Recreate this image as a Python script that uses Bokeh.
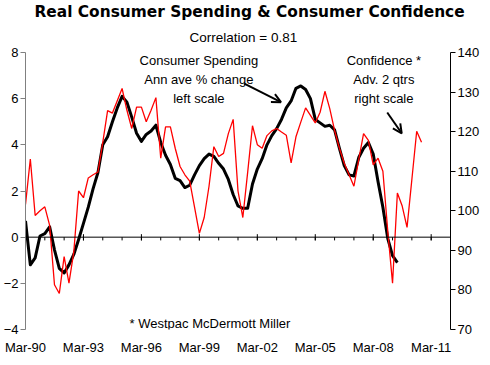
from bokeh.plotting import figure
from bokeh.models import (Range1d, LinearAxis, FixedTicker, Span, Label, Arrow,
                          OpenHead, Title)
from bokeh.embed import file_html
from bokeh.resources import INLINE

# ---- data (quarterly, Mar-90 onward) ----
# Real consumer spending, annual average % change (left scale)
spending = [0.7, -1.2, -0.9, 0.05, 0.15, 0.45, -0.55, -1.35, -1.55, -1.2,
            -0.75, -0.1, 0.6, 1.3, 2.1, 2.8, 4.0, 4.35, 5.0, 5.6,
            6.1, 5.85, 5.2, 4.5, 4.15, 4.45, 4.6, 4.85, 4.1, 3.55,
            3.15, 2.55, 2.45, 2.15, 2.25, 2.7, 3.1, 3.4, 3.6, 3.5,
            3.2, 2.95, 2.5, 1.85, 1.35, 1.25, 1.25, 2.3, 2.95, 3.4,
            4.0, 4.4, 4.7, 5.1, 5.6, 5.9, 6.45, 6.55, 6.4, 6.0,
            5.1, 4.95, 4.8, 4.85, 4.65, 3.85, 3.1, 2.7, 2.65, 3.45,
            3.85, 4.1, 3.6, 2.4, 1.3, -0.05, -0.8, -1.1]

# Consumer confidence, advanced 2 quarters (right scale)
confidence = [101.6, 113.1, 98.8, 100.0, 101.0, 96.3, 81.3, 79.1, 88.4, 81.7,
              89.6, 105.0, 103.3, 108.3, 109.1, 109.8, 117.3, 125.3, 124.7, 127.8,
              130.9, 125.4, 120.8, 126.2, 126.2, 122.5, 125.4, 128.6, 113.3, 121.2,
              121.2, 115.8, 111.2, 109.1, 107.5, 100.9, 94.3, 98.3, 106.2, 116.2,
              113.7, 114.5, 119.5, 123.1, 105.0, 98.3, 109.7, 121.5, 116.7, 115.8,
              119.0, 120.2, 120.8, 119.9, 119.1, 112.1, 118.7, 122.4, 126.0, 124.1,
              122.2, 124.9, 130.2, 125.8, 120.3, 115.8, 112.0, 109.1, 106.2, 112.9,
              119.5, 117.8, 111.6, 113.3, 110.0, 95.0, 81.7, 104.5, 101.2, 95.8,
              107.9, 120.1, 117.3]

tick_labels = ["Mar-90", "Mar-93", "Mar-96", "Mar-99", "Mar-02", "Mar-05",
               "Mar-08", "Mar-11"]
left_ticks = [-4, -2, 0, 2, 4, 6, 8]
right_ticks = [70, 80, 90, 100, 110, 120, 130, 140]
n_quarters = 88          # axis spans Mar-90 .. Mar-12

q_spend = list(range(len(spending)))
q_conf = list(range(len(confidence)))
label_pos = [12 * i for i in range(len(tick_labels))]
year_pos = list(range(0, n_quarters + 1, 4))

FONT = "Liberation Sans"

p = figure(frame_width=425, frame_height=277, output_backend="svg",
           toolbar_location=None,
           x_range=Range1d(0, n_quarters), y_range=Range1d(-4, 8),
           min_border_left=17, min_border_right=0, min_border_top=0,
           min_border_bottom=0)
p.outline_line_color = None
p.xgrid.visible = False
p.ygrid.visible = False
p.background_fill_color = "white"
p.border_fill_color = "white"
p.extra_y_ranges = {"conf": Range1d(70, 140)}

# titles (first added sits nearest the plot)
p.add_layout(Title(text="Correlation = 0.81", align="left", offset=164,
                   text_font=FONT, text_font_size="13.5px",
                   text_font_style="normal", text_color="black",
                   standoff=15), "above")
p.add_layout(Title(text="Real Consumer Spending & Consumer Confidence",
                   align="left", offset=9, text_font="DejaVu Sans",
                   text_font_size="15.4px", text_font_style="bold",
                   text_color="black", standoff=0), "above")

# x axis (labels only; the line sits at zero)
xa = p.xaxis[0]
xa.ticker = FixedTicker(ticks=label_pos)
xa.major_label_overrides = {pos: lab for pos, lab in zip(label_pos, tick_labels)}
xa.axis_line_color = None
xa.major_tick_line_color = None
xa.major_tick_out = 0
xa.major_tick_in = 0
xa.minor_tick_line_color = None
xa.minor_tick_out = 0
xa.major_label_standoff = 10
xa.major_label_text_font = FONT
xa.major_label_text_font_size = "13px"
xa.major_label_text_color = "black"

# left axis
ya = p.yaxis[0]
ya.ticker = FixedTicker(ticks=left_ticks)
ya.axis_line_color = "#808080"
ya.major_tick_line_color = "#808080"
ya.major_tick_out = 5
ya.major_tick_in = 0
ya.minor_tick_line_color = None
ya.minor_tick_out = 0
ya.major_label_standoff = 2
ya.major_label_text_font = FONT
ya.major_label_text_font_size = "13px"
ya.major_label_text_color = "black"

# right axis
ra = LinearAxis(y_range_name="conf", ticker=FixedTicker(ticks=right_ticks))
ra.axis_line_color = "black"
ra.major_tick_line_color = "black"
ra.major_tick_out = 5
ra.major_tick_in = 0
ra.minor_tick_line_color = None
ra.minor_tick_out = 0
ra.major_label_standoff = 2
ra.major_label_text_font = FONT
ra.major_label_text_font_size = "13px"
ra.major_label_text_color = "black"
p.add_layout(ra, "right")

# zero line with category tick marks
p.add_layout(Span(location=0, dimension="width", line_color="black",
                  line_width=1))
p.segment(x0=year_pos, y0=[0] * len(year_pos), x1=year_pos,
          y1=[-0.14] * len(year_pos), line_color="black", line_width=1)
p.segment(x0=label_pos, y0=[0.13] * len(label_pos), x1=label_pos,
          y1=[-0.14] * len(label_pos), line_color="black", line_width=1)

# series
p.line(q_spend, spending, line_color="black", line_width=3, line_join="round")
p.line(q_conf, confidence, y_range_name="conf", line_color="#FF0000",
       line_width=1.3)

# annotations
def lab(x, y, t, size="13px"):
    p.add_layout(Label(x=x, y=y, text=t, text_font=FONT, text_font_size=size,
                       text_align="center", text_baseline="middle",
                       text_color="black"))

lab(35.9, 7.67, "Consumer Spending")
lab(35.9, 6.83, "Ann ave % change")
lab(35.9, 5.99, "left scale")
lab(74.2, 7.67, "Confidence *")
lab(74.2, 6.83, "Adv. 2 qtrs")
lab(74.2, 5.99, "right scale")
lab(38.2, -3.72, "* Westpac McDermott Miller")

p.add_layout(Arrow(end=OpenHead(size=9, line_width=2, line_color="black"),
                   x_start=45.3, y_start=6.65, x_end=52.9, y_end=5.85,
                   line_width=2, line_color="black"))
p.add_layout(Arrow(end=OpenHead(size=9, line_width=2, line_color="black"),
                   x_start=74.9, y_start=5.4, x_end=77.9, y_end=4.5,
                   line_width=2, line_color="black"))

open("out.html", "w").write(file_html(p, INLINE))
